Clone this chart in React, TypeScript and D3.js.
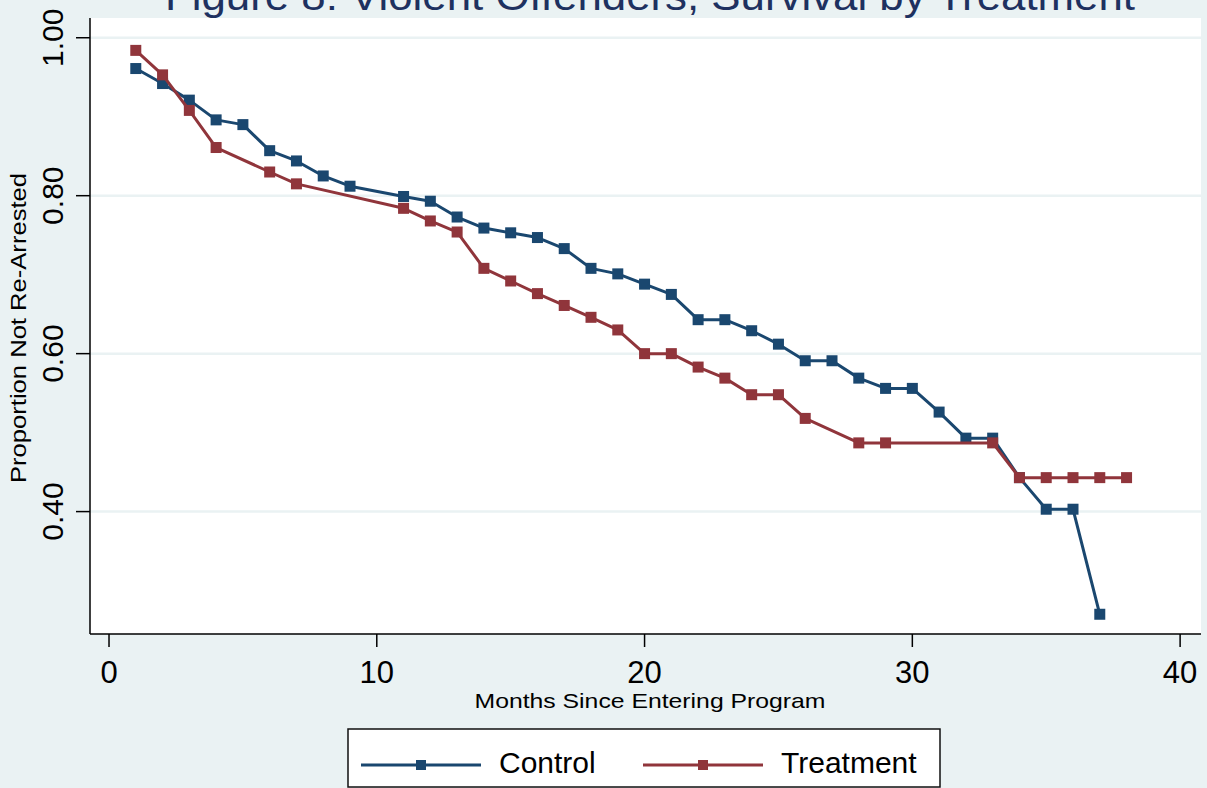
import * as d3 from 'd3'

const FONT = '"Liberation Sans", Arial, Helvetica, sans-serif'
const BG = '#eaf2f3'
const NAVY = '#1a476f'
const MAROON = '#90353b'

// months and survival proportions
const controlMonths = [1, 2, 3, 4, 5, 6, 7, 8, 9, 11, 12, 13, 14, 15, 16, 17, 18, 19, 20, 21, 22, 23, 24, 25, 26, 27, 28, 29, 30, 31, 32, 33, 34, 35, 36, 37]
const controlValues = [0.961, 0.942, 0.921, 0.896, 0.890, 0.857, 0.844, 0.825, 0.812, 0.799, 0.793, 0.773, 0.759, 0.753, 0.747, 0.733, 0.708, 0.701, 0.688, 0.675, 0.643, 0.643, 0.629, 0.612, 0.591, 0.591, 0.569, 0.556, 0.556, 0.526, 0.493, 0.493, 0.443, 0.403, 0.403, 0.270]

const treatmentMonths = [1, 2, 3, 4, 6, 7, 11, 12, 13, 14, 15, 16, 17, 18, 19, 20, 21, 22, 23, 24, 25, 26, 28, 29, 33, 34, 35, 36, 37, 38]
const treatmentValues = [0.984, 0.953, 0.908, 0.861, 0.830, 0.815, 0.784, 0.768, 0.754, 0.708, 0.692, 0.676, 0.661, 0.646, 0.630, 0.600, 0.600, 0.583, 0.569, 0.548, 0.548, 0.518, 0.487, 0.487, 0.487, 0.443, 0.443, 0.443, 0.443, 0.443]

const xTicks = [0, 10, 20, 30, 40]
const yTicks = [0.4, 0.6, 0.8, 1.0]

const seriesNames = ['Control', 'Treatment']

const W = 1207
const H = 788
const PLOT = { left: 90, right: 1201, top: 18, bottom: 634 }

export default function App() {
  const x = d3.scaleLinear().domain([-0.71, 40.78]).range([PLOT.left, PLOT.right])
  const y = d3.scaleLinear().domain([0.245, 1.025]).range([PLOT.bottom, PLOT.top])

  const line = d3.line<[number, number]>()
    .x(d => x(d[0]))
    .y(d => y(d[1]))

  const series = [
    { name: seriesNames[0], color: NAVY, pts: controlMonths.map((m, i) => [m, controlValues[i]] as [number, number]) },
    { name: seriesNames[1], color: MAROON, pts: treatmentMonths.map((m, i) => [m, treatmentValues[i]] as [number, number]) },
  ]

  const MS = 11 // marker size

  return (
    <div style={{ position: 'fixed', left: 0, top: 0, width: W, height: H, overflow: 'hidden' }}>
      <svg width={W} height={H} style={{ display: 'block', fontFamily: FONT }}>
        <rect x={0} y={0} width={W} height={H} fill={BG} />

        {/* title, partly cut off at the top like the original */}
        <text x={650} y={10} textAnchor="middle" fontSize={40} fill="#1e3160"
          textLength={970} lengthAdjust="spacingAndGlyphs">
          Figure 8: Violent Offenders, Survival by Treatment
        </text>

        {/* plot region */}
        <rect x={PLOT.left} y={PLOT.top} width={PLOT.right - PLOT.left} height={PLOT.bottom - PLOT.top} fill="#fff" />

        {/* grid */}
        {yTicks.map(t => (
          <line key={'g' + t} x1={PLOT.left} x2={PLOT.right} y1={y(t)} y2={y(t)} stroke={BG} strokeWidth={2.5} />
        ))}

        {/* axes */}
        <line x1={PLOT.left} x2={PLOT.left} y1={PLOT.top} y2={PLOT.bottom} stroke="#000" strokeWidth={1.5} />
        <line x1={PLOT.left} x2={PLOT.right} y1={PLOT.bottom} y2={PLOT.bottom} stroke="#000" strokeWidth={1.5} />

        {yTicks.map(t => (
          <g key={'y' + t}>
            <line x1={PLOT.left - 14} x2={PLOT.left} y1={y(t)} y2={y(t)} stroke="#000" strokeWidth={1.5} />
            <text transform={`translate(63, ${y(t)}) rotate(-90)`} textAnchor="middle" fontSize={30} fill="#000">
              {d3.format('.2f')(t)}
            </text>
          </g>
        ))}

        {xTicks.map(t => (
          <g key={'x' + t}>
            <line x1={x(t)} x2={x(t)} y1={PLOT.bottom} y2={PLOT.bottom + 13} stroke="#000" strokeWidth={1.5} />
            <text x={x(t)} y={683} textAnchor="middle" fontSize={31} fill="#000">{t}</text>
          </g>
        ))}

        {/* axis titles */}
        <text x={650} y={708} textAnchor="middle" fontSize={21} fill="#000"
          textLength={351} lengthAdjust="spacingAndGlyphs">
          Months Since Entering Program
        </text>
        <text transform={`translate(26, 328) rotate(-90)`} textAnchor="middle" fontSize={22} fill="#000"
          textLength={310} lengthAdjust="spacingAndGlyphs">
          Proportion Not Re-Arrested
        </text>

        {/* series */}
        {series.map(s => (
          <g key={s.name}>
            <path d={line(s.pts) || ''} fill="none" stroke={s.color} strokeWidth={3} strokeLinejoin="round" />
            {s.pts.map((p, i) => (
              <rect key={i} x={x(p[0]) - MS / 2} y={y(p[1]) - MS / 2} width={MS} height={MS} fill={s.color} />
            ))}
          </g>
        ))}

        {/* legend */}
        <rect x={348} y={729} width={592} height={58} fill="#fff" stroke="#111" strokeWidth={1.5} />
        {series.map((s, i) => {
          const lx = i === 0 ? 361 : 643
          const tx = i === 0 ? 499 : 781
          return (
            <g key={'l' + s.name}>
              <line x1={lx} x2={lx + 120} y1={765} y2={765} stroke={s.color} strokeWidth={3} />
              <rect x={lx + 60 - 5} y={765 - 5} width={10} height={10} fill={s.color} />
              <text x={tx} y={773} fontSize={30} fill="#000">{s.name}</text>
            </g>
          )
        })}
      </svg>
    </div>
  )
}
